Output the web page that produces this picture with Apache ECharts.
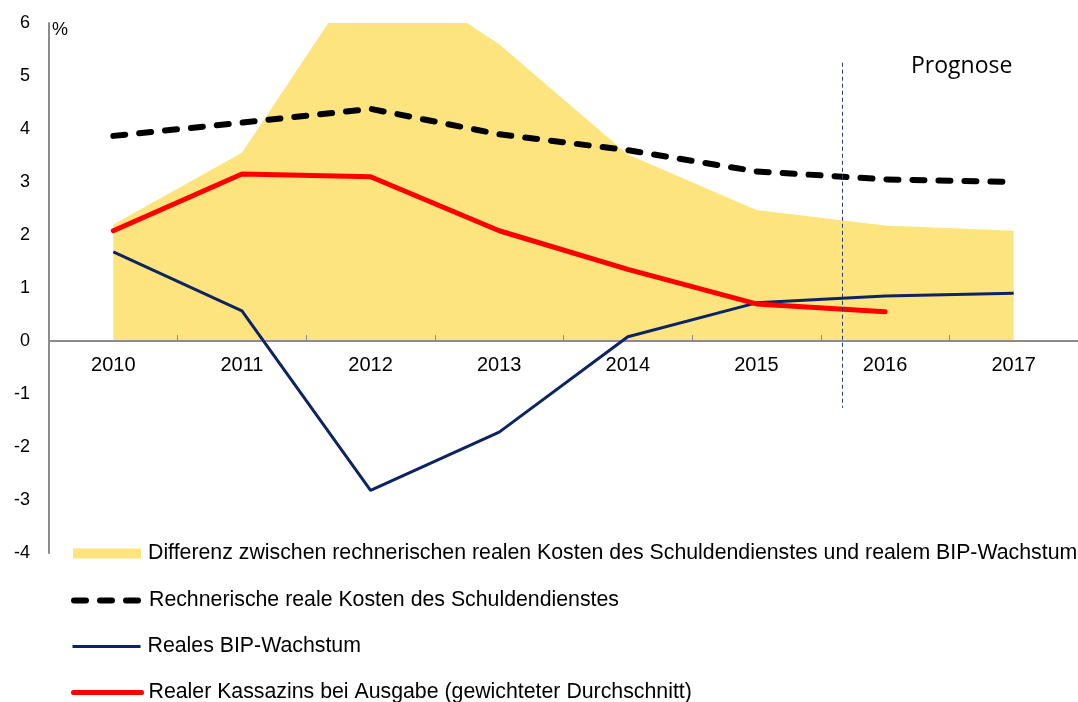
<!DOCTYPE html>
<html>
<head>
<meta charset="utf-8">
<script src="https://cdn.jsdelivr.net/npm/echarts@6/dist/echarts.min.js"></script>
<style>
  html, body { margin: 0; padding: 0; background: #fff; }
  #chart { width: 1078px; height: 702px; }
</style>
</head>
<body>
<div id="chart"></div>
<script>
// Daten
const jahre = ['2010', '2011', '2012', '2013', '2014', '2015', '2016', '2017'];
const differenz = [2.2, 3.55, 7.2, 5.6, 3.52, 2.47, 2.18, 2.08];
const kostenSchuldendienst = [3.87, 4.12, 4.38, 3.9, 3.6, 3.2, 3.05, 3.0];
const bipWachstum = [1.68, 0.57, -2.82, -1.72, 0.08, 0.72, 0.85, 0.9];
const kassazins = [2.08, 3.15, 3.1, 2.08, 1.35, 0.7, 0.55];
const prognoseGrenze = 5.67; // zwischen 2015 und 2016

const namen = [
  'Differenz zwischen rechnerischen realen Kosten des Schuldendienstes und realem BIP-Wachstum',
  'Rechnerische reale Kosten des Schuldendienstes',
  'Reales BIP-Wachstum',
  'Realer Kassazins bei Ausgabe (gewichteter Durchschnitt)'
];

const schrift = 'Liberation Sans, Arial, sans-serif';

let myChart = echarts.init(document.getElementById('chart'));

// eine Legende pro Zeile
function legende(name, top, extra) {
  return Object.assign({
    data: [name],
    left: 71,
    top: top,
    orient: 'vertical',
    padding: 0,
    itemWidth: 68,
    itemHeight: 10,
    selectedMode: false,
    itemStyle: { opacity: 0 },
    textStyle: { fontFamily: schrift, fontSize: 21.3, color: '#000', padding: [0, 0, 0, 2] }
  }, extra || {});
}

let option = {
  animation: false,
  title: [
    {
      text: 'Prognose', left: 911, top: 55, padding: 0,
      textStyle: { fontFamily: 'Open Sans, sans-serif', fontSize: 23, fontWeight: 'normal', color: '#000' }
    },
    {
      text: '%', left: 52, top: 21, padding: 0,
      textStyle: { fontFamily: schrift, fontSize: 18, fontWeight: 'normal', color: '#000' }
    }
  ],
  legend: [
    legende(namen[0], 543, { left: 73, icon: 'rect', itemStyle: { opacity: 1 } }),
    legende(namen[1], 590, { lineStyle: { width: 6 } }),
    legende(namen[2], 636, { lineStyle: { width: 3 } }),
    legende(namen[3], 682, { lineStyle: { width: 5 } })
  ],
  grid: { left: 49, top: 23, width: 1041, height: 530, containLabel: false },
  xAxis: [
    {
      type: 'category',
      data: jahre,
      boundaryGap: true,
      position: 'bottom',
      offset: -212, // Achse liegt bei 0
      z: 2,
      axisLine: { onZero: false, lineStyle: { color: '#8c8c8c', width: 2 } },
      axisTick: { show: true, inside: true, length: 6, lineStyle: { color: '#8c8c8c', width: 1 } },
      axisLabel: { fontFamily: schrift, fontSize: 20, color: '#000', margin: 14 },
      splitLine: { show: false }
    },
    {
      type: 'value', min: -0.5, max: 7.5, show: false
    }
  ],
  yAxis: {
    type: 'value',
    min: -4,
    max: 6,
    interval: 1,
    axisLine: { show: true, onZero: false, lineStyle: { color: '#8c8c8c', width: 2 } },
    axisTick: { show: false },
    axisLabel: { fontFamily: schrift, fontSize: 18, color: '#000', margin: 19 },
    splitLine: { show: false }
  },
  series: [
    {
      name: namen[0],
      type: 'line',
      data: differenz,
      symbol: 'none',
      lineStyle: { width: 0 },
      itemStyle: { color: '#fde47f' },
      areaStyle: { color: '#fde47f', opacity: 1 },
      z: 1
    },
    {
      name: namen[1],
      type: 'line',
      data: kostenSchuldendienst,
      symbol: 'none',
      itemStyle: { color: '#000' },
      lineStyle: { color: '#000', width: 6, type: [12, 14], cap: 'round' },
      z: 3
    },
    {
      name: namen[2],
      type: 'line',
      data: bipWachstum,
      symbol: 'none',
      itemStyle: { color: '#0d2462' },
      lineStyle: { color: '#0d2462', width: 3 },
      z: 3
    },
    {
      name: namen[3],
      type: 'line',
      data: kassazins,
      symbol: 'none',
      itemStyle: { color: '#ff0000' },
      lineStyle: { color: '#ff0000', width: 5, cap: 'round' },
      z: 4
    },
    {
      name: 'prognose',
      type: 'line',
      xAxisIndex: 1,
      data: [],
      silent: true,
      z: 5,
      markLine: {
        silent: true,
        symbol: 'none',
        label: { show: false },
        lineStyle: { color: '#2b3a7a', width: 1, type: [4, 3] },
        data: [[{ coord: [prognoseGrenze, 5.25] }, { coord: [prognoseGrenze, -1.26] }]]
      }
    }
  ]
};
myChart.setOption(option);
</script>
</body>
</html>
